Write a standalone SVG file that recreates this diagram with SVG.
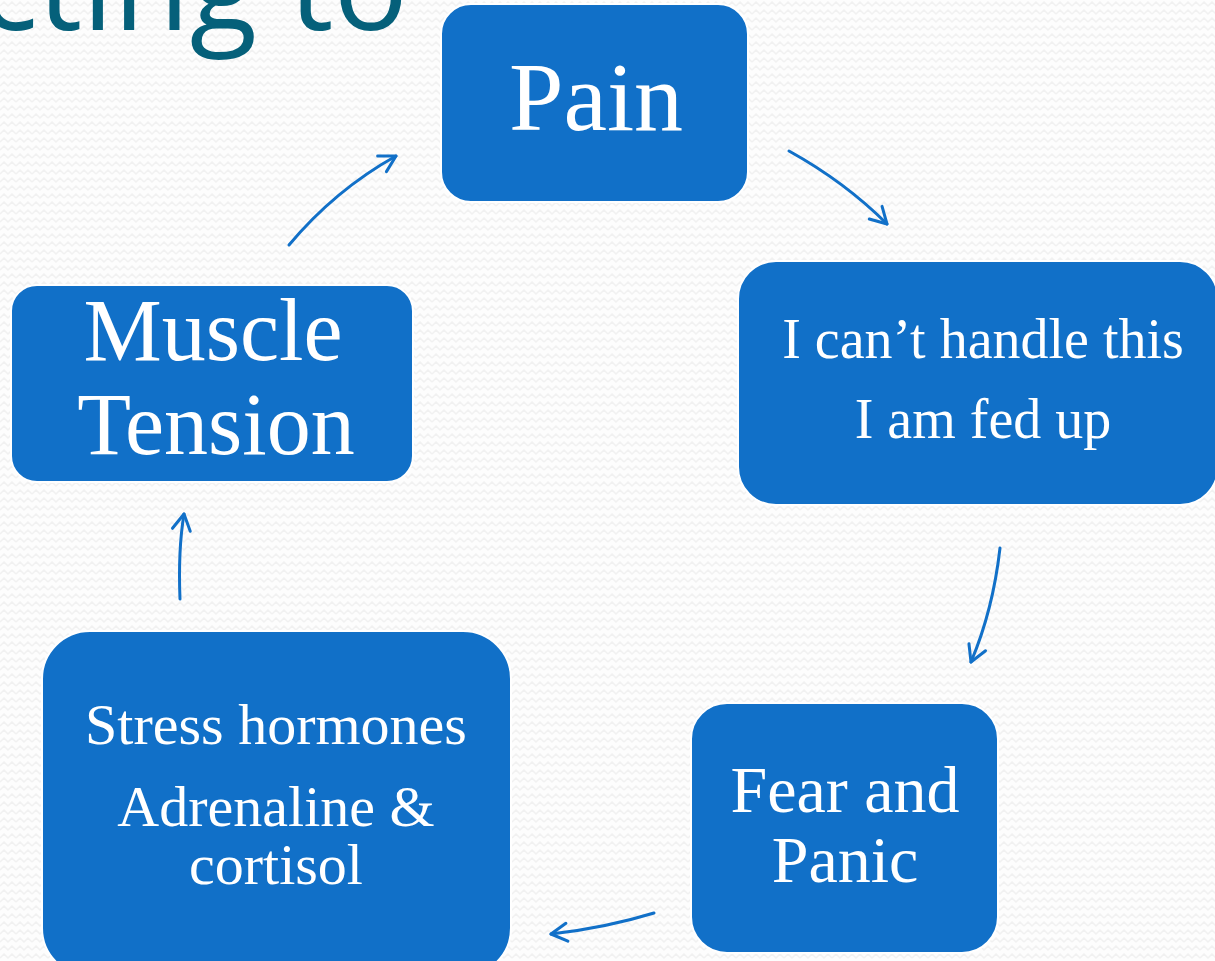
<svg xmlns="http://www.w3.org/2000/svg" width="1215" height="961" viewBox="0 0 1215 961">
<defs>
<pattern id="zz" width="16" height="8" patternUnits="userSpaceOnUse">
<rect width="16" height="8" fill="#fdfdfd"/>
<path d="M0,6 L4,2 L8,6 L12,2 L16,6" fill="none" stroke="#f1f1f1" stroke-width="1.5"/>
</pattern>
<marker id="ah" markerUnits="userSpaceOnUse" markerWidth="34" markerHeight="34" refX="0" refY="0" viewBox="-22 -17 34 34" orient="auto">
<path d="M-16,-9 L0,0 L-16,9" fill="none" stroke="#1170C8" stroke-width="3" stroke-linecap="round" stroke-linejoin="round"/>
</marker>
<style>
.box{fill:#1170C8;stroke:#ffffff;stroke-width:2;}
.lbl{font-family:"Liberation Serif","DejaVu Serif",serif;fill:#ffffff;text-anchor:middle;}
.arr{fill:none;stroke:#1170C8;stroke-width:3;stroke-linecap:round;marker-end:url(#ah);}
</style>
</defs>
<rect width="1215" height="961" fill="url(#zz)"/>
<text x="408" y="30" font-family="'Open Sans','Liberation Sans',sans-serif" font-size="124" fill="#05607A" text-anchor="end">cting to</text>
<g id="connectors">
<path class="arr" d="M789,151 Q845,182 887,224"/>
<path class="arr" d="M1000,548 Q993,610 971,662"/>
<path class="arr" d="M654,913 Q605,928 551,934"/>
<path class="arr" d="M180,599 Q178,550 184,514"/>
<path class="arr" d="M289,245 Q335,190 396,156"/>
</g>
<g id="pain">
<rect class="box" x="441" y="4" width="307" height="198" rx="30"/>
<text class="lbl" x="596" y="130" font-size="98">Pain</text>
</g>
<g id="cant-handle">
<rect class="box" x="738" y="261" width="480" height="244" rx="38"/>
<text class="lbl" x="983" y="358" font-size="56">I can’t handle this</text>
<text class="lbl" x="983" y="438" font-size="56">I am fed up</text>
</g>
<g id="fear-panic">
<rect class="box" x="691" y="703" width="307" height="250" rx="36"/>
<text class="lbl" x="845" y="812" font-size="66">Fear and</text>
<text class="lbl" x="845" y="882" font-size="66">Panic</text>
</g>
<g id="stress-hormones">
<rect class="box" x="42" y="631" width="469" height="345" rx="48"/>
<text class="lbl" x="276" y="744" font-size="58">Stress hormones</text>
<text class="lbl" x="276" y="826" font-size="58">Adrenaline &amp;</text>
<text class="lbl" x="276" y="884" font-size="58">cortisol</text>
</g>
<g id="muscle-tension">
<rect class="box" x="11" y="285" width="402" height="197" rx="26"/>
<text class="lbl" x="213" y="360" font-size="88">Muscle</text>
<text class="lbl" x="216" y="454" font-size="88">Tension</text>
</g>
</svg>
